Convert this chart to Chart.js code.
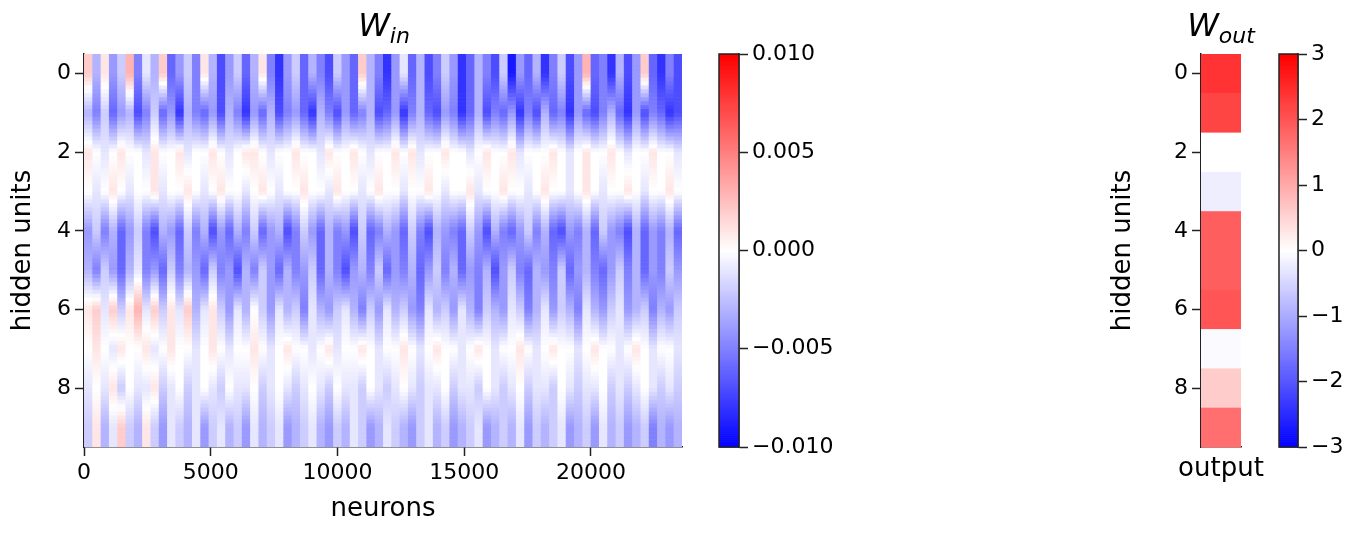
<!DOCTYPE html>
<html><head><meta charset="utf-8">
<script src="https://cdn.jsdelivr.net/npm/chart.js@4"></script>
<style>
body{margin:0;width:1365px;height:540px;background:#fff;position:relative;overflow:hidden;font-family:"DejaVu Sans",sans-serif}
.c{position:absolute;top:0;height:540px}
.t{position:absolute;font-size:26px;color:#000;transform:translateX(-50%);white-space:nowrap}
.ti{position:absolute;font-size:32px;font-style:italic;transform:translateX(-50%);white-space:nowrap}
.ti sub{font-size:22px}
</style></head><body>
<div class="c" style="left:0;width:700px"><canvas id="c1"></canvas></div>
<div class="c" style="left:700px;width:200px"><canvas id="c2"></canvas></div>
<div class="c" style="left:1100px;width:160px"><canvas id="c3"></canvas></div>
<div class="c" style="left:1260px;width:105px"><canvas id="c4"></canvas></div>
<div class="ti" style="left:384px;top:6px">W<sub>in</sub></div>
<div class="ti" style="left:1221px;top:6px">W<sub>out</sub></div>
<div class="t" style="left:383px;top:492px">neurons</div>
<div class="t" style="left:1221px;top:452px">output</div>
<script>
// W_in values in units of 0.001, one array per hidden unit, sampled across neurons
const winRow0=[2,-3,1,-4,-2,3,-5,-1,-3,2,-6,-4,-2,-5,1,-3,-7,-4,-2,-6,-3,1,-5,-8,-4,-2,-6,-3,-5,-7,-2,-4,-6,2,-3,-5,-8,-4,-1,-6,-3,-7,-5,-2,-4,-8,-6,-3,-5,-7,-2,-9,-4,-6,-3,-8,-5,-2,-7,-4,3,-6,-5,-8,-3,-7,-4,2,-6,-8,-5,-7];
const winRow1=[-3,-5,-2,-6,-4,-3,-7,-5,-2,-6,-4,-8,-3,-5,-6,-4,-7,-3,-5,-8,-4,-6,-3,-7,-5,-4,-6,-8,-3,-5,-7,-4,-6,-5,-3,-7,-6,-4,-8,-5,-3,-6,-7,-4,-5,-8,-6,-3,-7,-5,-6,-4,-8,-5,-7,-3,-6,-5,-8,-4,-6,-7,-5,-3,-6,-8,-4,-7,-5,-6,-8,-7];
const winRow2=[1,0,-1,0,1,0,0,-1,1,0,0,1,-1,0,0,1,0,-1,0,1,1,0,-1,0,0,1,0,0,-1,1,0,0,1,0,-1,0,0,1,0,1,-1,0,0,1,0,0,-1,0,1,0,0,1,-1,0,0,0,1,0,-1,0,1,0,0,1,0,-1,0,0,1,0,0,-1];
const winRow3=[0,-1,0,1,0,-1,0,0,1,-1,0,0,1,0,-1,0,1,0,0,-1,0,1,0,-1,0,0,1,0,0,-1,1,0,0,-1,0,1,0,0,-1,0,0,1,0,-1,0,0,1,-1,0,0,1,0,0,-1,0,1,0,0,-1,0,1,0,-1,0,0,1,0,-1,0,0,1,0];
const winRow4=[-4,-2,-5,-3,-6,-4,-2,-5,-7,-3,-4,-6,-2,-5,-3,-7,-4,-6,-3,-5,-2,-6,-4,-3,-7,-5,-2,-4,-6,-3,-5,-4,-7,-2,-6,-5,-3,-4,-6,-2,-5,-7,-3,-4,-5,-6,-2,-4,-7,-3,-5,-6,-4,-2,-5,-3,-6,-7,-4,-5,-3,-6,-2,-4,-5,-7,-3,-6,-4,-5,-3,-6];
const winRow5=[-3,-5,-2,-4,-6,-3,-1,-5,-4,-6,-2,-5,-3,-4,-6,-2,-5,-4,-7,-3,-5,-2,-4,-6,-3,-5,-4,-2,-6,-3,-5,-7,-4,-3,-5,-2,-6,-4,-5,-3,-6,-4,-2,-5,-3,-6,-4,-5,-3,-7,-4,-2,-5,-6,-3,-4,-5,-2,-6,-4,-3,-5,-6,-4,-2,-5,-3,-6,-4,-5,-2,-4];
const winRow6=[1,2,-1,2,-2,1,3,-1,2,-2,1,-1,2,-3,-1,1,-2,-4,-1,-3,0,-2,-4,-1,-3,-2,-5,-1,-3,-4,-2,-1,-3,-5,-2,-4,-1,-3,-2,-4,-5,-1,-3,-2,-4,-1,-3,-5,-2,-3,-4,-1,-2,-5,-3,-1,-4,-2,-3,-5,-1,-3,-4,-2,-1,-4,-3,-2,-5,-3,-4,-2];
const winRow7=[0,1,0,-1,1,0,0,1,-1,0,1,0,0,-1,0,1,0,-1,0,0,1,0,-1,0,1,0,0,-1,0,1,-1,0,0,1,0,-1,0,0,1,0,-1,0,1,0,0,-1,0,1,0,-1,0,0,1,0,-1,0,1,0,0,-1,0,1,0,0,-1,0,1,0,-1,0,0,-1];
const winRow8=[-1,0,-1,1,-2,0,-1,-1,1,-2,-1,0,-2,-1,0,-1,-2,0,-1,-1,0,-2,-1,0,-1,-2,-1,0,-1,-2,0,-1,-1,-2,0,-1,-2,-1,0,-1,-2,-1,-1,0,-2,-1,-1,-2,0,-1,-2,-1,0,-2,-1,-1,-2,0,-1,-2,-1,-1,0,-2,-1,-2,-1,0,-1,-2,-1,-2];
const winRow9=[-2,1,-3,-1,2,-2,-3,1,-2,-4,-1,-2,-3,-1,-4,-2,-1,-3,-2,-4,-1,-3,-2,-1,-4,-3,-2,-1,-3,-4,-2,-3,-1,-2,-4,-3,-1,-2,-3,-4,-2,-1,-3,-2,-4,-3,-2,-1,-4,-3,-2,-3,-1,-4,-2,-3,-2,-1,-4,-3,-2,-4,-1,-3,-2,-4,-3,-2,-5,-3,-4,-3];
const winScale=0.001;
const nNeurons=23590;
const woutValues=[2.4,2.2,0.0,-0.2,1.9,1.9,2.0,-0.05,0.6,1.7];
const winTicksX=[0,5000,10000,15000,20000];
const hiddenTicks=[0,2,4,6,8];
const cb1Ticks=[-0.01,-0.005,0,0.005,0.01];
const cb2Ticks=[-3,-2,-1,0,1,2,3];

const winRows=[winRow0,winRow1,winRow2,winRow3,winRow4,winRow5,winRow6,winRow7,winRow8,winRow9];
function bwr(t){
  t=Math.max(-1,Math.min(1,t));
  let r,g,b;
  if(t<0){r=g=Math.round(255*(1+t));b=255;}else{r=255;g=b=Math.round(255*(1-t));}
  return `rgb(${r},${g},${b})`;
}
const F={family:"DejaVu Sans",size:22};
function axisBase(){return {grid:{display:true,drawOnChartArea:false,drawTicks:true,tickLength:9,color:'#222',tickWidth:1.5},border:{display:true,color:'#222',width:1.5},ticks:{color:'#000',font:F,padding:4,autoSkip:false,maxRotation:0}};}
const fmtMinus=v=>String(v).replace('-','\u2212');

const heatIn={id:'heatIn',beforeDatasetsDraw(ch){
  const {ctx,chartArea:a,scales:{x,y}}=ch;
  ctx.save();ctx.beginPath();ctx.rect(a.left,a.top,a.right-a.left,a.bottom-a.top);ctx.clip();
  const steps=10;
  const val=(r,c)=>winRows[r][Math.min(c,winRows[r].length-1)];
  for(let r=0;r<10;r++){
    const n=winRows[r].length;
    for(let s=0;s<steps;s++){
      const yv0=r-0.5+s/steps, yv1=yv0+1/steps, ym=(yv0+yv1)/2;
      const py0=y.getPixelForValue(yv0), py1=y.getPixelForValue(yv1);
      for(let c=0;c<n;c++){
        const xv0=c*nNeurons/n, xv1=(c+1)*nNeurons/n;
        const rl=Math.floor(ym), rh=rl+1, f=ym-rl;
        let v;
        if(rl<0) v=val(0,c); else if(rh>9) v=val(9,c); else v=val(rl,c)*(1-f)+val(rh,c)*f;
        const px0=x.getPixelForValue(xv0), px1=x.getPixelForValue(xv1);
        ctx.fillStyle=bwr(v*winScale/0.01);
        ctx.fillRect(px0,Math.min(py0,py1),px1-px0+0.6,Math.abs(py1-py0)+0.6);
      }
    }
  }
  ctx.restore();
}};
const yHidden=()=>{const o=axisBase();Object.assign(o,{type:'linear',reverse:true,min:-0.5,max:9.5,afterBuildTicks:s=>{s.ticks=hiddenTicks.map(v=>({value:v}));},ticks:{...o.ticks,callback:v=>String(v)},title:{display:true,text:'hidden units',font:{family:'DejaVu Sans',size:26},color:'#000',padding:{top:8,bottom:0}}});return o;};
const x1=axisBase();Object.assign(x1,{type:'linear',min:-0.5,max:nNeurons,afterBuildTicks:s=>{s.ticks=winTicksX.map(v=>({value:v}));},ticks:{...x1.ticks,callback:v=>String(v)},afterFit:s=>{s.height=93;}});
const y1=yHidden();y1.afterFit=s=>{s.width=84;};
new Chart(document.getElementById('c1'),{type:'scatter',data:{datasets:[{data:[]}]},
  options:{responsive:true,maintainAspectRatio:false,animation:false,layout:{padding:{top:54,right:18,left:0,bottom:0}},
  plugins:{legend:{display:false},tooltip:{enabled:false}},scales:{x:x1,y:y1}},plugins:[heatIn]});

function cbPlugin(lo,hi){return {id:'cb',beforeDatasetsDraw(ch){
  const {ctx,chartArea:a,scales:{y}}=ch;
  const n=200;
  for(let i=0;i<n;i++){const v0=lo+(hi-lo)*i/n,v1=lo+(hi-lo)*(i+1)/n;const p0=y.getPixelForValue(v0),p1=y.getPixelForValue(v1);
    ctx.fillStyle=bwr(((v0+v1)/2)/hi);ctx.fillRect(a.left,Math.min(p0,p1),a.right-a.left,Math.abs(p1-p0)+0.7);}
  ctx.strokeStyle='#222';ctx.lineWidth=1.5;ctx.strokeRect(a.left,a.top,a.right-a.left,a.bottom-a.top);
}};}
function cbChart(id,lo,hi,ticks,fmt,padL,w){
  const yc=axisBase();Object.assign(yc,{type:'linear',position:'right',min:lo,max:hi,afterBuildTicks:s=>{s.ticks=ticks.map(v=>({value:v}));},ticks:{...yc.ticks,callback:fmt},afterFit:s=>{s.width=w;}});
  new Chart(document.getElementById(id),{type:'scatter',data:{datasets:[{data:[]}]},
   options:{responsive:true,maintainAspectRatio:false,animation:false,layout:{padding:{top:54,bottom:93,left:padL,right:0}},
   plugins:{legend:{display:false},tooltip:{enabled:false}},scales:{x:{display:false},y:yc}},plugins:[cbPlugin(lo,hi)]});
}
cbChart('c2',-0.01,0.01,cb1Ticks,v=>fmtMinus(v.toFixed(3)),19,200-19-20);
cbChart('c4',-3,3,cb2Ticks,v=>fmtMinus(String(v)),19,105-19-19);

const heatOut={id:'heatOut',beforeDatasetsDraw(ch){
  const {ctx,scales:{x,y}}=ch;
  woutValues.forEach((v,r)=>{const p0=y.getPixelForValue(r-0.5),p1=y.getPixelForValue(r+0.5);
    const a0=x.getPixelForValue(-0.5),a1=x.getPixelForValue(0.5);
    ctx.fillStyle=bwr(v/3);ctx.fillRect(a0,Math.min(p0,p1),a1-a0,Math.abs(p1-p0)+0.6);});
}};
const x3={type:'linear',min:-0.5,max:0.5,grid:{display:false},border:{display:true,color:'#222',width:1.5},ticks:{display:false},afterFit:s=>{s.height=93;}};
const y3=yHidden();y3.afterFit=s=>{s.width=101;};
new Chart(document.getElementById('c3'),{type:'scatter',data:{datasets:[{data:[]}]},
  options:{responsive:true,maintainAspectRatio:false,animation:false,layout:{padding:{top:54,right:19,left:0,bottom:0}},
  plugins:{legend:{display:false},tooltip:{enabled:false}},scales:{x:x3,y:y3}},plugins:[heatOut]});
</script></body></html>
